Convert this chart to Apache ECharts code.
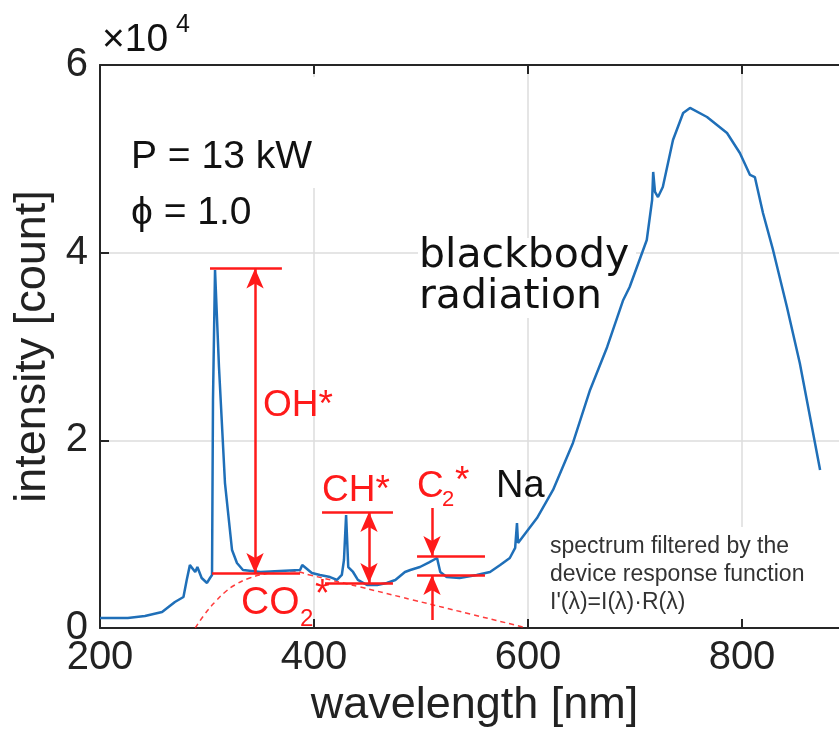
<!DOCTYPE html>
<html>
<head>
<meta charset="utf-8">
<script src="https://cdn.jsdelivr.net/npm/echarts@6/dist/echarts.min.js"></script>
<style>
  html, body { margin: 0; padding: 0; background: #fff; }
  #chart { width: 839px; height: 733px; }
</style>
</head>
<body>
<div id="chart"></div>
<script>
const wavelength = [200, 226, 242, 258, 270, 278, 281, 284, 289, 291, 295, 300, 302.8, 304.7, 305.6, 307.5, 309.3, 311.2, 316.8, 323.4, 328, 333.6, 350, 368, 387, 389, 398, 405.6, 415, 421.5, 426, 428, 430, 432, 436.5, 441, 449.5, 459, 468, 476, 485, 490, 499, 508, 515, 518, 524, 536, 552, 564.5, 574, 583, 588, 589.7, 590.7, 592.5, 608.4, 623.4, 642, 658, 674, 689, 695, 711, 716, 717, 718.7, 721.5, 726, 735.5, 745, 751.4, 767.3, 786, 798, 807.5, 812, 819.6, 829, 842, 854, 863.6, 873];
const intensity = [1066, 1066, 1280, 1700, 2770, 3300, 5100, 6700, 5970, 6500, 5330, 4800, 5330, 5650, 24300, 38150, 37940, 27820, 15450, 8310, 6930, 6180, 5970, 6080, 6180, 6710, 5860, 5650, 5430, 5120, 5650, 7250, 12040, 6500, 5970, 5120, 4580, 4580, 4800, 5120, 5970, 6180, 6500, 7030, 7460, 5970, 5430, 5330, 5650, 5970, 6710, 7460, 8530, 11190, 9060, 9270, 11720, 14710, 19720, 25370, 29950, 34960, 36340, 41350, 45610, 48600, 46470, 45930, 47000, 52010, 54890, 55420, 54460, 52750, 50620, 48280, 48060, 44230, 40290, 34210, 28240, 22490, 16840];

// CO2* continuum (dashed)
const co2Wavelength = [289, 298, 307.5, 317, 326, 340, 354, 368, 379, 396, 443, 492.5, 546, 599];
const co2Intensity = [0, 1490, 2770, 3840, 4580, 5330, 5760, 6075, 6075, 5650, 4370, 2985, 1490, 0];

// horizontal level markers [x1, x2, y]
const levelLines = [
  [302.8, 370, 38300],   // OH* top
  [304.7, 387, 5850],    // OH* base
  [407.5, 473.8, 12360], // CH* top
  [410.3, 473.8, 4800],  // CH* base
  [496.3, 559.8, 7670],  // C2* top
  [496.3, 559.8, 5650]   // C2* base
];
// vertical arrows [x, yFrom, yTo, doubleHeaded]
const arrows = [
  [344.9, 38300, 5850, true],
  [451.4, 12360, 4800, true],
  [510.3, 12790, 7670, false],
  [510.3, 850, 5650, false]
];

const xTicks = [200, 400, 600, 800];
const yTicks = [0, 2, 4, 6];

const red = '#ff1a1a';
const blue = '#1f6fb8';
const axisColor = '#262626';
const gridColor = '#dddddd';

let myChart = echarts.init(document.getElementById('chart'));

let markData = [];
levelLines.forEach(l => {
  markData.push([{coord: [l[0], l[2]], symbol: 'none'}, {coord: [l[1], l[2]], symbol: 'none'}]);
});
arrows.forEach(a => {
  markData.push([
    {coord: [a[0], a[1]], symbol: a[3] ? 'arrow' : 'none', symbolSize: [13, 20]},
    {coord: [a[0], a[2]], symbol: 'arrow', symbolSize: [13, 20]}
  ]);
});

let txt = (text, x, y, size, color, family, extra) => ({
  type: 'text',
  z: 5,
  style: Object.assign({
    text: text, x: x, y: y,
    font: size + 'px ' + (family || '"Liberation Sans", Arial, sans-serif'),
    fill: color || '#111',
    verticalAlign: 'middle'
  }, extra || {})
});

let option = {
  animation: false,
  backgroundColor: '#fff',
  grid: {left: 100, top: 65, width: 749, height: 563, outerBoundsMode: 'none', containLabel: false},
  xAxis: [
    {
      type: 'value',
      min: 200, max: 900, interval: 200,
      name: 'wavelength [nm]',
      nameLocation: 'middle',
      nameGap: 52,
      nameTextStyle: {fontSize: 45, color: '#222', fontFamily: 'Liberation Sans'},
      axisLine: {show: true, onZero: false, lineStyle: {color: axisColor, width: 2}},
      axisTick: {inside: true, length: 9, lineStyle: {color: axisColor, width: 2}},
      axisLabel: {
        margin: 10, fontSize: 40, color: '#222', fontFamily: 'Liberation Sans',
        formatter: v => xTicks.indexOf(v) >= 0 ? String(v) : ''
      },
      splitLine: {show: true, lineStyle: {color: gridColor, width: 1.5}}
    },
    {
      type: 'value', position: 'top',
      min: 200, max: 900, interval: 200,
      axisLine: {show: true, onZero: false, lineStyle: {color: axisColor, width: 2}},
      axisTick: {inside: true, length: 9, lineStyle: {color: axisColor, width: 2}},
      axisLabel: {show: false},
      splitLine: {show: false}
    }
  ],
  yAxis: {
    type: 'value',
    min: 0, max: 60000, interval: 20000,
    name: 'intensity [count]',
    nameLocation: 'middle',
    nameGap: 45,
    nameTextStyle: {fontSize: 45, color: '#222', fontFamily: 'Liberation Sans'},
    axisLine: {show: true, onZero: false, lineStyle: {color: axisColor, width: 2}},
    axisTick: {inside: true, length: 9, lineStyle: {color: axisColor, width: 2}},
    axisLabel: {
      margin: 12, fontSize: 40, color: '#222', fontFamily: 'Liberation Sans',
      formatter: v => yTicks.indexOf(v / 10000) >= 0 ? String(v / 10000) : ''
    },
    splitLine: {show: true, lineStyle: {color: gridColor, width: 1.5}}
  },
  graphic: [
    // white boxes behind the text blocks (they hide the grid there)
    {type: 'rect', z: 1, shape: {x: 104, y: 77, width: 228, height: 111}, style: {fill: '#fff'}},
    {type: 'rect', z: 1, shape: {x: 418, y: 238, width: 218, height: 80}, style: {fill: '#fff'}},
    {type: 'rect', z: 1, shape: {x: 545, y: 527, width: 294, height: 92}, style: {fill: '#fff'}},

    txt('×10', 102, 40, 39, '#111'),
    txt('4', 176, 25, 25, '#111'),
    txt('P = 13 kW', 131, 157, 39, '#111'),
    txt('ϕ = 1.0', 131, 213, 39, '#111'),
    txt('blackbody', 419, 256, 41, '#111', '"DejaVu Sans", sans-serif'),
    txt('radiation', 419, 297, 41, '#111', '"DejaVu Sans", sans-serif'),
    txt('OH*', 263, 406, 37, red),
    txt('CH*', 322, 491, 37, red),
    txt('C', 417, 487, 37, red),
    txt('2', 442, 500, 22, red),
    txt('*', 455, 482, 37, red),
    txt('Na', 496, 487, 38, '#111'),
    txt('CO', 241, 603, 39, red),
    txt('2', 300, 619, 24, red),
    txt('*', 315, 596, 38, red),
    txt('spectrum filtered by the\ndevice response function\nI\'(λ)=I(λ)·R(λ)', 550, 575, 23, '#333', null, {lineHeight: 28})
  ],
  series: [
    {
      name: 'spectrum',
      type: 'line',
      xAxisIndex: 0,
      showSymbol: false,
      z: 3,
      lineStyle: {color: blue, width: 2.5},
      data: wavelength.map((w, i) => [w, intensity[i]])
    },
    {
      name: 'CO2*',
      type: 'line',
      xAxisIndex: 0,
      smooth: true,
      showSymbol: false,
      z: 2,
      lineStyle: {color: red, width: 1.5, type: [5, 4], opacity: 0.85},
      data: co2Wavelength.map((w, i) => [w, co2Intensity[i]])
    },
    {
      name: 'markers',
      type: 'line',
      xAxisIndex: 0,
      data: [],
      z: 4,
      markLine: {
        silent: true,
        animation: false,
        symbol: ['none', 'none'],
        label: {show: false},
        lineStyle: {color: red, width: 2.5, type: 'solid'},
        emphasis: {disabled: true},
        data: markData
      }
    }
  ]
};
myChart.setOption(option);
window.onresize = function () {
  myChart.resize()
}
</script>
</body>
</html>
